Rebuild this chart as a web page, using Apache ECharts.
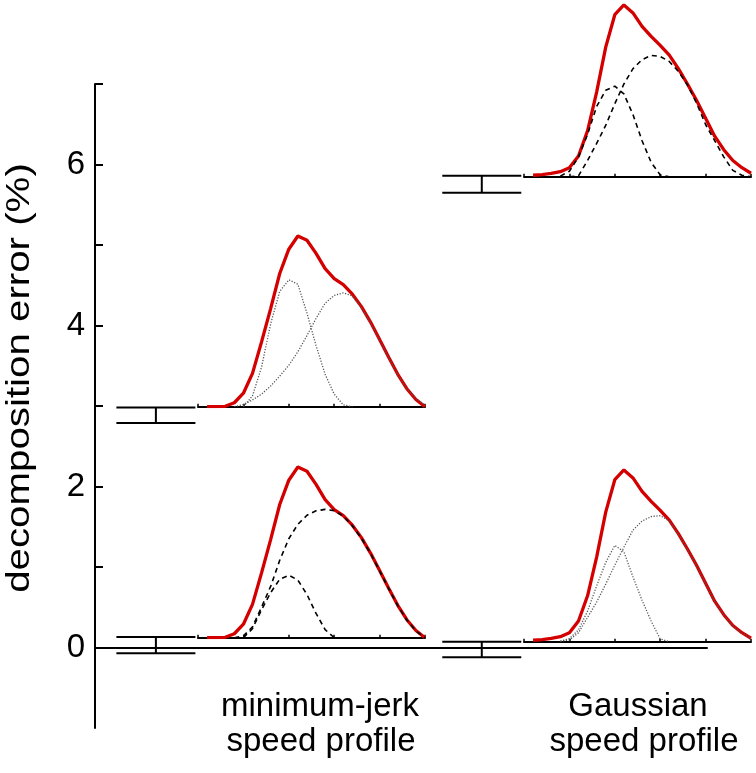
<!DOCTYPE html>
<html>
<head>
<meta charset="utf-8">
<script src="https://cdn.jsdelivr.net/npm/echarts@6/dist/echarts.min.js"></script>
<style>
html,body{margin:0;padding:0;background:#fff;}
#c{width:756px;height:773px;}
</style>
</head>
<body>
<div id="c"></div>
<script>
// ---- main axis (decomposition error, %) ----
const yTickValues = [0, 1, 2, 3, 4, 5, 6, 7];
const yLabelValues = [0, 2, 4, 6];
// error bars: [minimum-jerk/dashed, minimum-jerk/dotted, Gaussian/dotted, Gaussian/dashed]
const errHigh = [0.13, 2.98, 0.07, 5.86];
const errLow = [-0.07, 2.79, -0.12, 5.65];

// ---- speed profiles (normalised time, normalised speed) ----
const t = [0.04, 0.08, 0.12, 0.16, 0.20, 0.24, 0.28, 0.32, 0.36, 0.40, 0.44, 0.48, 0.52,
           0.56, 0.60, 0.64, 0.68, 0.72, 0.76, 0.80, 0.84, 0.88, 0.92, 0.96, 1.00];

const mjTotal = [0, 0, 0.002, 0.022, 0.075, 0.185, 0.36, 0.545, 0.74, 0.875, 0.948, 0.925, 0.852,
                 0.767, 0.712, 0.678, 0.625, 0.556, 0.47, 0.373, 0.275, 0.18, 0.1, 0.04, 0];
const mjMidDotA = [null, null, null, null, 0, 0.06, 0.22, 0.46, 0.64, 0.705, 0.68, 0.52, 0.34,
                   0.18, 0.07, 0.01, 0, null, null, null, null, null, null, null, null];
const mjMidDotB = [null, null, null, 0, 0.012, 0.038, 0.07, 0.115, 0.17, 0.23, 0.305, 0.395, 0.49,
                   0.575, 0.618, 0.633, 0.615, 0.55, 0.465, 0.37, 0.272, 0.178, 0.1, 0.045, 0.008];
const mjBotDashA = [null, null, null, null, 0, 0.05, 0.155, 0.25, 0.325, 0.347, 0.32, 0.24, 0.135,
                    0.045, 0, null, null, null, null, null, null, null, null, null, null];
const mjBotDashB = [null, null, null, 0, 0.01, 0.06, 0.17, 0.285, 0.43, 0.55, 0.63, 0.68, 0.705,
                    0.713, 0.706, 0.676, 0.622, 0.553, 0.468, 0.371, 0.273, 0.178, 0.098, 0.038, 0];

const gTotal = [0.008, 0.012, 0.018, 0.028, 0.05, 0.115, 0.255, 0.47, 0.72, 0.9, 0.954, 0.91, 0.835,
                0.78, 0.73, 0.675, 0.6, 0.515, 0.425, 0.325, 0.225, 0.15, 0.09, 0.05, 0.019];
const gTopDashA = [null, null, null, 0.003, 0.03, 0.11, 0.235, 0.39, 0.48, 0.503, 0.46, 0.345, 0.2,
                   0.08, 0.01, 0, null, null, null, null, null, null, null, null, null];
const gTopDashB = [null, null, null, null, 0, 0.005, 0.09, 0.185, 0.285, 0.405, 0.515, 0.6, 0.65,
                   0.674, 0.668, 0.64, 0.585, 0.51, 0.41, 0.29, 0.2, 0.11, 0.035, 0.008, 0];
const gBotDotA = [null, null, null, 0.003, 0.017, 0.066, 0.17, 0.31, 0.44, 0.535, 0.5, 0.36, 0.23,
                  0.115, 0.015, 0, null, null, null, null, null, null, null, null, null];
const gBotDotB = [null, null, null, 0.002, 0.01, 0.05, 0.135, 0.22, 0.32, 0.425, 0.525, 0.62, 0.67,
                  0.695, 0.7, 0.672, 0.598, 0.512, 0.422, 0.322, 0.222, 0.148, 0.088, 0.048, 0.018];

const labels = {
  yName: 'decomposition error (%)',
  mj: ['minimum-jerk', 'speed profile'],
  g: ['Gaussian', 'speed profile']
};

// ---------- build ----------
const FONT = 'Liberation Sans, Arial, Helvetica, sans-serif';
const RED = '#d40000';
const chart = echarts.init(document.getElementById('c'), null, {renderer: 'canvas'});

const pairs = arr => t.map((x, i) => [x, arr[i]]).filter(d => d[1] !== null);

// subplot layout (grid 1..4)
const sub = [
  {left: 198, top: 461.3},  // minimum-jerk, dashed (bottom)
  {left: 198, top: 230.3},  // minimum-jerk, dotted (middle)
  {left: 524, top: 465.3},  // Gaussian, dotted (bottom)
  {left: 524, top: 0.3}     // Gaussian, dashed (top)
];
const grids = [{left: 95, top: 84, width: 612, height: 644}]
  .concat(sub.map(s => ({left: s.left, top: s.top, width: 227, height: 176.4})));

const xAxes = [{
  gridIndex: 0, type: 'value', min: 0, max: 1,
  axisLine: {show: true, onZero: true, lineStyle: {color: '#000', width: 2}},
  axisTick: {show: false}, axisLabel: {show: false}, splitLine: {show: false}
}].concat(sub.map((s, i) => ({
  gridIndex: i + 1, type: 'value', min: 0, max: 1, interval: 0.2,
  axisLine: {show: true, lineStyle: {color: '#000', width: 2}},
  axisTick: {show: true, inside: true, length: 3, lineStyle: {color: '#000', width: 1.5}},
  axisLabel: {show: false}, splitLine: {show: false}
})));

const yAxes = [{
  gridIndex: 0, type: 'value', min: -1, max: 7, interval: 1,
  axisLine: {show: true, lineStyle: {color: '#000', width: 2}},
  axisTick: {show: true, inside: true, length: 8, customValues: yTickValues,
             lineStyle: {color: '#000', width: 2}},
  axisLabel: {show: true, customValues: yLabelValues, color: '#000', fontFamily: FONT,
              fontSize: 33, margin: 10, verticalAlign: 'middle', padding: [0, 0, 16, 0]},
  splitLine: {show: false}
}].concat(sub.map((s, i) => ({
  gridIndex: i + 1, type: 'value', min: 0, max: 0.98, show: false
})));

const slotX = [0.0995, 0.0995, 0.632, 0.632];
const HALF = 39.5;

function lineSeries(gi, arr, kind) {
  const styles = {
    total: {color: RED, width: 3.3, type: 'solid'},
    dash: {color: '#000', width: 1.6, type: [5, 4]},
    dot: {color: '#555', width: 1.3, type: [1.2, 1.6]}
  };
  return {
    type: 'line', xAxisIndex: gi, yAxisIndex: gi, data: pairs(arr),
    showSymbol: false, symbol: 'none', smooth: false,
    lineStyle: styles[kind], z: kind === 'total' ? 2 : 3, silent: true
  };
}

const series = [
  {
    type: 'custom', xAxisIndex: 0, yAxisIndex: 0, silent: true,
    data: errHigh.map((h, i) => [slotX[i], h, errLow[i]]),
    renderItem: function (params, api) {
      const xc = api.value(0);
      const hi = api.coord([xc, api.value(1)]);
      const lo = api.coord([xc, api.value(2)]);
      const st = {stroke: '#000', lineWidth: 2};
      return {
        type: 'group', children: [
          {type: 'line', shape: {x1: hi[0] - HALF, y1: hi[1], x2: hi[0] + HALF, y2: hi[1]}, style: st},
          {type: 'line', shape: {x1: lo[0] - HALF, y1: lo[1], x2: lo[0] + HALF, y2: lo[1]}, style: st},
          {type: 'line', shape: {x1: hi[0], y1: hi[1], x2: lo[0], y2: lo[1]}, style: st}
        ]
      };
    }
  },
  lineSeries(1, mjTotal, 'total'),
  lineSeries(1, mjBotDashA, 'dash'),
  lineSeries(1, mjBotDashB, 'dash'),
  lineSeries(2, mjTotal, 'total'),
  lineSeries(2, mjMidDotA, 'dot'),
  lineSeries(2, mjMidDotB, 'dot'),
  lineSeries(3, gTotal, 'total'),
  lineSeries(3, gBotDotA, 'dot'),
  lineSeries(3, gBotDotB, 'dot'),
  lineSeries(4, gTotal, 'total'),
  lineSeries(4, gTopDashA, 'dash'),
  lineSeries(4, gTopDashB, 'dash')
];

const txt = (s, x, y, rot, sx) => ({
  type: 'text', x: x, y: y, rotation: rot || 0, scaleX: sx || 1, silent: true,
  style: {text: s, fill: '#000', font: '33px ' + FONT, align: 'center', verticalAlign: 'middle'}
});

chart.setOption({
  animation: false,
  backgroundColor: '#fff',
  grid: grids,
  xAxis: xAxes,
  yAxis: yAxes,
  series: series,
  graphic: [
    txt(labels.yName, 20, 378, Math.PI / 2, 1.22),
    txt(labels.mj[0], 320, 706.5),
    txt(labels.mj[1], 321, 741.5),
    txt(labels.g[0], 638, 706.5),
    txt(labels.g[1], 644, 741.5)
  ]
});
</script>
</body>
</html>
